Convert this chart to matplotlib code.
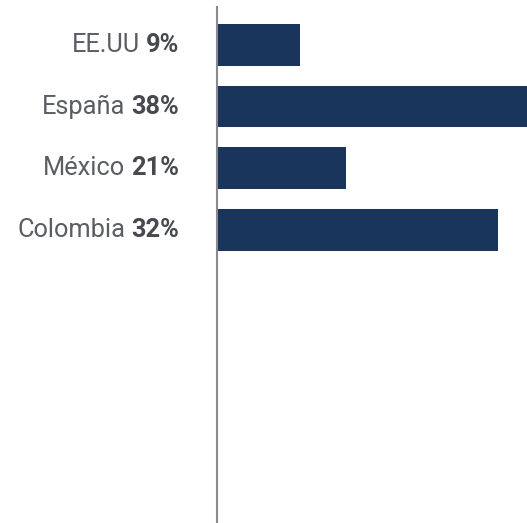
import numpy as np
import matplotlib
matplotlib.use('Agg')
import matplotlib.pyplot as plt
import matplotlib.transforms as mtransforms

countries = ['EE.UU', 'España', 'México', 'Colombia']
pct_labels = [9, 38, 21, 32]
# bar lengths as drawn (not proportional to the labels in the source)
bar_len = [10.2, 38.0, 15.8, 34.4]

plt.rcParams['font.family'] = ['Roboto', 'DejaVu Sans']

fig = plt.figure(figsize=(5.27, 5.23), dpi=100)
ax = fig.add_axes([217/527, 0, 310/527, 516/523])

ypos = np.arange(len(countries))
ax.barh(ypos, bar_len, height=0.676, color='#1a355b', zorder=2)
ax.set_xlim(0, 38.0)
ax.set_ylim(7.75, -0.615)

for s in ['top', 'right', 'bottom']:
    ax.spines[s].set_visible(False)
ax.spines['left'].set_color('#8a8a8e')
ax.spines['left'].set_linewidth(1.5)
ax.spines['left'].set_zorder(3)
ax.set_xticks([])
ax.set_yticks([])

fig.canvas.draw()
renderer = fig.canvas.get_renderer()
trans = mtransforms.blended_transform_factory(fig.transFigure, ax.transData)
x_right = 179/527
for y, name, p in zip(ypos, countries, pct_labels):
    t1 = ax.text(x_right, y, f'{p}%', transform=trans, ha='right', va='center',
                 fontsize=18.3, fontweight='bold', color='#46494e')
    w = t1.get_window_extent(renderer).width
    off = mtransforms.offset_copy(trans, fig=fig, x=-(w + 6), y=0, units='dots')
    ax.text(x_right, y, name, transform=off, ha='right', va='center',
            fontsize=18.3, color='#5a5d62')

fig.savefig('out.png', dpi=100)
